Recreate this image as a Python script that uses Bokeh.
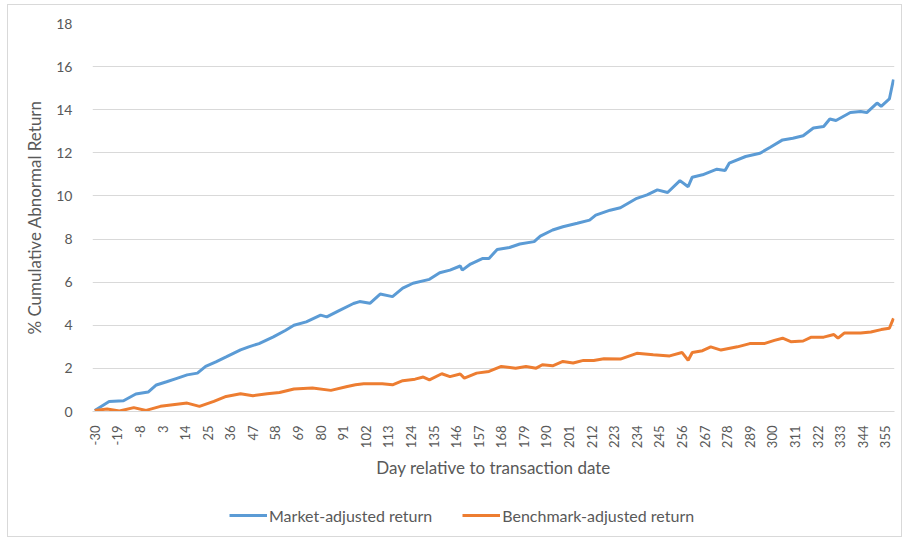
import math
from bokeh.plotting import figure
from bokeh.layouts import column
from bokeh.models import FixedTicker, Range1d, Legend, LegendItem
from bokeh.embed import file_html
from bokeh.resources import INLINE

# Day relative to transaction date (sampled readings)
market_days = [-30, -23, -16, -10, -4, 0, 5, 10, 15, 20, 24, 29, 34, 41, 45, 50, 57, 63, 67, 73,
               80, 83, 89, 96, 99, 104, 109, 115, 120, 125, 133, 138, 143, 148, 149, 153, 159, 162,
               166, 172, 177, 184, 187, 193, 198, 205, 211, 214, 221, 226, 234, 239, 244, 249, 255,
               259, 261, 266, 273, 277, 279, 287, 294, 299, 305, 310, 315, 320, 325, 328, 331, 338,
               343, 346, 351, 353, 357, 359]
market_vals = [0.05, 0.46, 0.50, 0.81, 0.90, 1.23, 1.38, 1.54, 1.70, 1.78, 2.09, 2.30, 2.53, 2.86,
               3.00, 3.15, 3.46, 3.77, 4.00, 4.16, 4.47, 4.39, 4.68, 5.01, 5.10, 5.02, 5.45, 5.33,
               5.72, 5.95, 6.13, 6.44, 6.56, 6.75, 6.56, 6.84, 7.10, 7.10, 7.52, 7.61, 7.77, 7.88,
               8.14, 8.42, 8.57, 8.73, 8.88, 9.11, 9.34, 9.45, 9.89, 10.05, 10.28, 10.16, 10.71,
               10.43, 10.87, 10.98, 11.24, 11.18, 11.52, 11.83, 11.98, 12.26, 12.60, 12.68, 12.79,
               13.15, 13.22, 13.57, 13.50, 13.87, 13.92, 13.87, 14.31, 14.16, 14.50, 15.40]

bench_days = [-30, -24, -18, -11, -5, 2, 8, 15, 21, 28, 34, 41, 47, 54, 60, 67, 76, 85, 93, 97,
              101, 110, 115, 120, 126, 130, 133, 139, 143, 148, 150, 156, 162, 168, 175, 180, 185,
              188, 193, 198, 203, 208, 213, 218, 226, 234, 242, 250, 256, 259, 261, 266, 270, 275,
              283, 289, 296, 301, 305, 309, 315, 319, 325, 330, 332, 335, 343, 348, 353, 357, 359]
bench_vals = [0.05, 0.12, 0.02, 0.18, 0.05, 0.24, 0.31, 0.39, 0.24, 0.47, 0.70, 0.82, 0.73, 0.82,
              0.88, 1.04, 1.09, 0.98, 1.16, 1.24, 1.29, 1.29, 1.24, 1.43, 1.50, 1.60, 1.47, 1.75,
              1.62, 1.74, 1.55, 1.78, 1.86, 2.09, 2.01, 2.09, 2.01, 2.17, 2.12, 2.32, 2.25, 2.37,
              2.37, 2.45, 2.43, 2.70, 2.63, 2.58, 2.74, 2.38, 2.74, 2.82, 3.00, 2.85, 3.00, 3.15,
              3.15, 3.30, 3.40, 3.24, 3.27, 3.45, 3.45, 3.57, 3.40, 3.64, 3.64, 3.69, 3.80, 3.86,
              4.32]

x_ticks = list(range(-30, 356, 11))
y_ticks = [0, 2, 4, 6, 8, 10, 12, 14, 16, 18]
series_labels = ["Market-adjusted return", "Benchmark-adjusted return"]

FONT = "Lato"
TXT = "#595959"
BLUE = "#5B9BD5"
ORANGE = "#ED7D31"

p = figure(frame_width=802, frame_height=388,
           x_range=Range1d(-31.1, 359.5), y_range=Range1d(0, 18),
           output_backend="svg", toolbar_location=None)
p.min_border_left = 84
p.min_border_right = 7
p.min_border_top = 18
p.min_border_bottom = 85
p.outline_line_color = None
p.background_fill_color = "white"
p.border_fill_color = "white"

r1 = p.line(market_days, market_vals, line_color=BLUE, line_width=3)
r2 = p.line(bench_days, bench_vals, line_color=ORANGE, line_width=3)

p.xgrid.grid_line_color = None
p.ygrid.grid_line_color = "#D9D9D9"
p.ygrid.grid_line_width = 1

p.yaxis.ticker = FixedTicker(ticks=y_ticks)
p.yaxis.axis_line_color = None
p.yaxis.major_tick_line_color = None
p.yaxis.minor_tick_line_color = None
p.yaxis.major_label_text_font = FONT
p.yaxis.major_label_text_font_size = "14px"
p.yaxis.major_label_text_color = TXT
p.yaxis.major_label_standoff = 14
p.yaxis.axis_label = "% Cumulative Abnormal Return"
p.yaxis.axis_label_text_font = FONT
p.yaxis.axis_label_text_font_size = "17px"
p.yaxis.axis_label_text_font_style = "normal"
p.yaxis.axis_label_text_color = TXT
p.yaxis.axis_label_standoff = 8

p.xaxis.ticker = FixedTicker(ticks=x_ticks)
p.xaxis.major_label_overrides = {t: str(t) for t in x_ticks}
p.xaxis.axis_line_color = "#D9D9D9"
p.xaxis.major_tick_line_color = None
p.xaxis.minor_tick_line_color = None
p.xaxis.major_label_orientation = math.pi / 2
p.xaxis.major_label_text_font = FONT
p.xaxis.major_label_text_font_size = "13px"
p.xaxis.major_label_text_color = TXT
p.xaxis.major_label_standoff = 8
p.xaxis.axis_label = "Day relative to transaction date"
p.xaxis.axis_label_text_font = FONT
p.xaxis.axis_label_text_font_size = "17px"
p.xaxis.axis_label_text_font_style = "normal"
p.xaxis.axis_label_text_color = TXT
p.xaxis.axis_label_standoff = 6

# Legend strip below the chart: same series, drawn outside its visible range,
# so only the legend samples show.
lf = figure(frame_width=893, frame_height=40, x_range=Range1d(-31.1, 359.5),
            y_range=Range1d(100, 101), output_backend="svg", toolbar_location=None)
lf.min_border = 0
lf.axis.visible = False
lf.grid.grid_line_color = None
lf.outline_line_color = None
lf.border_fill_color = "white"
lg1 = lf.line(market_days, market_vals, line_color=BLUE, line_width=3)
lg2 = lf.line(bench_days, bench_vals, line_color=ORANGE, line_width=3)

legend = Legend(items=[LegendItem(label=series_labels[0], renderers=[lg1]),
                       LegendItem(label=series_labels[1], renderers=[lg2])],
                orientation="horizontal", location=(221, 11))
legend.border_line_color = None
legend.background_fill_alpha = 0
legend.label_text_font = FONT
legend.label_text_font_size = "16px"
legend.label_text_color = TXT
legend.glyph_width = 38
legend.label_standoff = 2
legend.spacing = 30
legend.padding = 6
legend.margin = 0
lf.add_layout(legend, "center")

layout = column(p, lf, spacing=0)
layout.margin = (4, 0, 0, 7)
layout.styles = {"border": "1px solid #D9D9D9"}

open("out.html", "w").write(file_html(layout, INLINE))
